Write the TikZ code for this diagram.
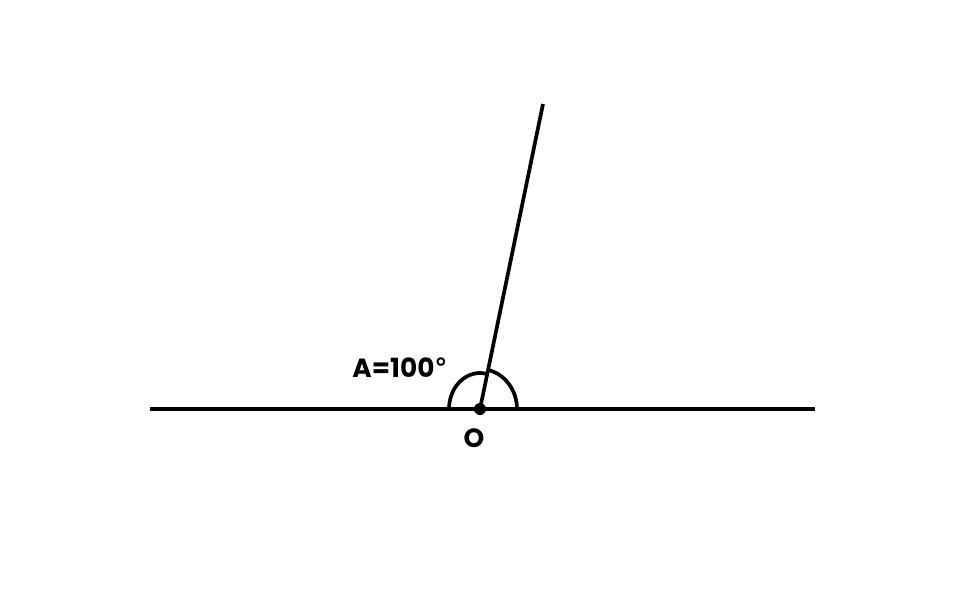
\documentclass[tikz,border=0pt]{standalone}
\usepackage{fontspec}
\setmainfont{Poppins}
\newfontfamily\degfont{DejaVu Sans}
\usepackage{tikz}

\begin{document}
\begin{tikzpicture}[line width=2.1pt,
    lbl/.style={font=\bfseries\fontsize{15}{17}\selectfont}]
        \useasboundingbox (-9.6,-3.82) rectangle (9.6,8.18);
        \coordinate (O) at (0,0);
        \coordinate (L) at (-6.6,0);
        \coordinate (R) at (6.7,0);
        \coordinate (P) at (1.26,6.1);
        \draw (L) -- (R);
        \draw (O) -- (P);
        % angle marks
        \draw (O) ++(0.74,0) arc[start angle=0,end angle=78.3,x radius=0.74,y radius=0.8];
        \draw (O) ++(78.3:0.62 and 0.72) arc[start angle=78.3,end angle=180,x radius=0.62,y radius=0.72];
        \fill (O) circle(0.12);
        \node[lbl] (ang) at (-1.6,0.82) {A=100{\degfont\bfseries °}};
        \node[lbl] (o) at (-0.12,-0.58) {O};
      \end{tikzpicture}
\end{document}
